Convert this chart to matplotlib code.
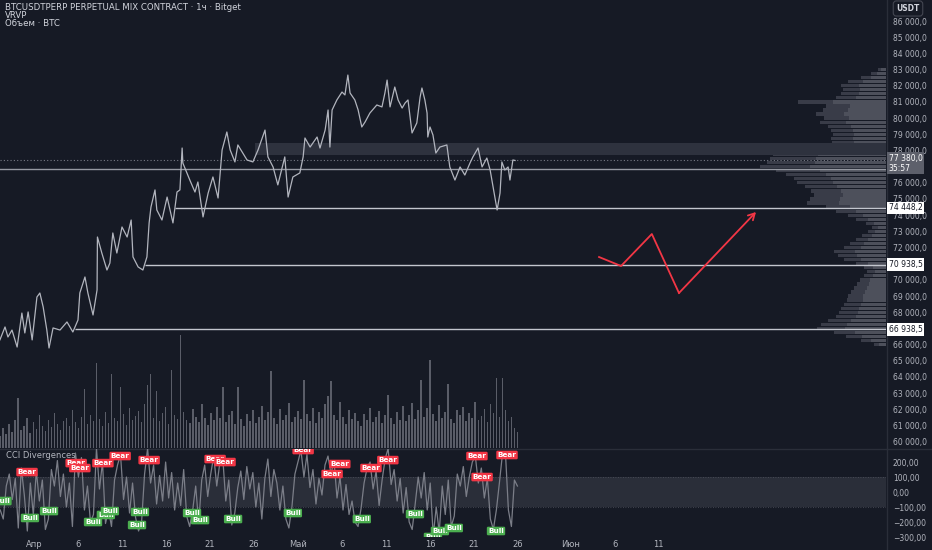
import numpy as np
import matplotlib
matplotlib.use("Agg")
import matplotlib.pyplot as plt
from matplotlib.ticker import FuncFormatter

BG = "#161a25"
GRID = "#2a2e39"
TXT = "#b2b5be"
RED = "#f23645"
GREEN = "#4caf50"

# price path, hours from 1 Apr 00:00 (1h candles)
price_h = [-93, -79, -71, -60, -46, -33, -25, -16, -5, 8,
           16, 25, 35, 41, 52, 71, 90, 106, 120, 125,
           139, 147, 161, 172, 173, 185, 199, 207, 215, 226,
           240, 254, 265, 270, 284, 297, 308, 314, 319, 330,
           335, 349, 363, 379, 390, 398, 404, 406, 425, 439,
           447, 461, 475, 488, 502, 513, 526, 535, 548, 556,
           581, 597, 611, 630, 638, 652, 665, 684, 693, 706,
           725, 734, 739, 753, 772, 780, 794, 802, 807, 813,
           826, 840, 848, 856, 862, 875, 884, 894, 903, 916,
           935, 949, 957, 963, 971, 984, 993, 1004, 1012, 1020,
           1031, 1044, 1053, 1058, 1066, 1072, 1074, 1080, 1088, 1096,
           1107, 1126, 1134, 1148, 1162, 1175, 1189, 1197, 1211, 1222,
           1235, 1244, 1252, 1263, 1271, 1276, 1284, 1293, 1298, 1306,
           1312]
price_v = [66290, 67090, 66470, 66900, 65850, 67950, 66720, 68020, 66290, 68940,
           69190, 68330, 66900, 65790, 67030, 66900, 67400, 66780, 67520, 69190,
           70180, 69190, 67830, 69380, 72650, 71660, 70610, 71040, 72900, 71660,
           73270, 72650, 73700, 71420, 70800, 70610, 71420, 73520, 74500, 75560,
           74320, 73700, 75120, 73520, 75430, 75560, 78150, 77220, 76170, 75430,
           76050, 73890, 75370, 76360, 75060, 78030, 79140, 78030, 77290, 78340,
           77410, 77290, 78030, 79260, 77600, 76980, 75870, 77600, 75120, 76360,
           76610, 77600, 78770, 78210, 78830, 78150, 79260, 80500, 78210, 80500,
           81120, 81610, 81430, 82660, 81550, 81120, 80500, 79450, 79760, 80310,
           80810, 80690, 81550, 82350, 80690, 81920, 81120, 80620, 80930, 81120,
           79080, 79700, 81300, 81860, 81120, 80310, 78830, 79450, 78960, 77840,
           78210, 78340, 76980, 76170, 76980, 76480, 77220, 77600, 78150, 76980,
           77530, 76790, 75740, 74320, 75370, 77290, 76790, 76980, 76170, 77410,
           77380]

# volume (BTC /40), sampled every ~8h
volume = [12, 20, 14, 24, 16, 28, 50, 18, 22, 30,
          15, 26, 19, 33, 22, 17, 28, 21, 35, 24,
          18, 27, 30, 22, 38, 26, 20, 31, 59, 24,
          33, 27, 85, 29, 22, 36, 25, 74, 30, 27,
          61, 34, 23, 40, 28, 32, 37, 26, 44, 63,
          74, 30, 57, 27, 35, 41, 24, 78, 33, 29,
          113, 36, 28, 25, 39, 31, 26, 44, 30, 23,
          35, 28, 41, 30, 61, 26, 33, 37, 24, 61,
          29, 22, 34, 27, 38, 25, 31, 42, 28, 36,
          77, 30, 24, 39, 28, 33, 45, 26, 31, 37,
          29, 68, 34, 27, 40, 25, 36, 30, 44, 52,
          67, 33, 28, 46, 31, 24, 38, 29, 35, 27,
          22, 34, 28, 40, 26, 31, 37, 25, 33, 53,
          30, 24, 36, 28, 42, 27, 33, 45, 29, 38,
          68, 31, 40, 88, 34, 27, 43, 30, 36, 64,
          29, 25, 38, 33, 41, 27, 35, 30, 46, 28,
          32, 39, 26, 44, 35, 70, 31, 70, 38, 27,
          31, 20, 16]

cci = [-120, -180, 40, 120, -50, 90, -240, 160, -20, -260,
       60, -150, 140, -60, 80, -250, -180, 150, 40, 210,
       -30, 120, -100, 60, -230, 260, 100, 230, -120, 40,
       -200, -150, 290, 20, 200, -210, -120, -230, 80, 180,
       250, -50, 100, -140, 60, -170, -260, -200, 120, 290,
       60, 180, -80, 110, -60, 200, -40, 130, -120, 60,
       -90, 150, -160, -230, -120, 40, -210, 80, 180, -30,
       120, 240, 40, 190, 230, -60, 80, -220, -140, 30,
       140, -50, 170, 20, 130, -100, 60, -180, 90, 220,
       -30, 150, 60, -120, 40, -180, -240, -100, 120, 200,
       280, 100, 250, 30, 150, -80, 90, -20, 180, 240,
       120, 210, -40, 100, -120, 50, -150, -60, -200, -230,
       -110, 60, 160, 200, 20, 140, -90, 80, 220, 290,
       50, 150, -60, 90, -140, 30, -200, -250, -80, 100,
       -40, 130, -120, 60, -290, -100, -270, 40, -150, 80,
       -230, -160, 120, 40, 170, -30, 100, 200, 240, 60,
       160, -40, 90, -180, -250, -120, 60, 250, 270, -120,
       -230, 80, 40]

bear_h = [-19, 115, 125, 188, 235, 314, 494, 521, 734, 813, 834, 919, 965, 1208, 1222, 1290]
bear_c = [133, 193, 160, 193, 240, 213, 220, 200, 280, 120, 187, 160, 213, 240, 100, 247]
bull_h = [-86, -11, 41, 161, 196, 207, 281, 289, 431, 453, 543, 706, 894, 1039, 1088, 1107, 1145, 1260]
bull_c = [-60, -173, -127, -200, -153, -127, -220, -133, -140, -187, -180, -140, -180, -147, -300, -260, -240, -260]

# visible range volume profile, 250 USDT rows
prof_p = np.arange(83000, 65999, -250)
prof_w = [8, 15, 25, 38, 45, 43, 45, 50, 88, 60,
          63, 70, 62, 66, 58, 55, 53, 55, 54, 120,
          110, 113, 116, 119, 126, 110, 100, 92, 89, 81,
          75, 72, 76, 79, 60, 50, 38, 30, 20, 14,
          18, 24, 30, 36, 42, 52, 48, 42, 30, 22,
          19, 22, 26, 29, 32, 35, 38, 39, 42, 45,
          47, 50, 58, 65, 69, 52, 40, 25, 12]

levels = [74448.2, 70938.5, 66938.5]
level_start = [384, 303, 112]
pivot = 76850
last_price = 77380.0
band = (77720, 78460)
band_start = 603

zig_h = [1541, 1601, 1685, 1759, 1969]
zig_p = [71414, 70858, 72836, 69189, 74195]

price_ticks = [60000, 61000, 62000, 63000, 64000, 65000, 66000, 68000, 69000, 70000,
               72000, 73000, 74000, 75000, 76000, 78000, 79000, 80000, 81000, 82000,
               83000, 84000, 85000, 86000]
tick_h = [0, 120, 240, 360, 480, 600, 720, 840, 960, 1080, 1200, 1320, 1464, 1584, 1704]
tick_lab = ["Апр", "6", "11", "16", "21", "26", "Май", "6", "11", "16", "21", "26", "Июн", "6", "11"]

XMIN, XMAX = -92.7, 2323.6
PMIN, PMAX = 59610, 87298
FS = 5.5

W, H = 932, 550
fig = plt.figure(figsize=(W / 100, H / 100), dpi=100, facecolor=BG)


def rect(x0, y0, x1, y1):
    return [x0 / W, 1 - y1 / H, (x1 - x0) / W, (y1 - y0) / H]


def clean(a):
    for s in a.spines.values():
        s.set_visible(False)
    a.tick_params(length=0)


def pfmt(v, p=None):
    return f"{v:,.1f}".replace(",", " ").replace(".", ",")


# volume underneath
ax_vol = fig.add_axes(rect(0, 0, 886, 448), zorder=0)
ax_vol.set_facecolor(BG)
vt = -92 + 8.2 * np.arange(len(volume))
ax_vol.bar(vt, np.array(volume) * 40, width=4.5, color="#5a5d68", linewidth=0)
ax_vol.set_xlim(XMIN, XMAX)
ax_vol.set_ylim(0, 448 * 40)
ax_vol.set_xticks([])
ax_vol.set_yticks([])
clean(ax_vol)

# volume profile
ax_prof = fig.add_axes(rect(0, 0, 886, 448), zorder=1)
ax_prof.patch.set_visible(False)
pw = np.array(prof_w, dtype=float)
ax_prof.barh(prof_p, pw, left=886 - pw, height=200, color="#393c48", linewidth=0)
ax_prof.barh(prof_p, pw * 0.6, left=886 - pw * 0.6, height=200, color="#4d505b", linewidth=0)
ax_prof.set_xlim(0, 886)
ax_prof.set_ylim(PMIN, PMAX)
ax_prof.set_xticks([])
ax_prof.set_yticks([])
clean(ax_prof)

# price
ax = fig.add_axes(rect(0, 0, 886, 448), zorder=2)
ax.patch.set_visible(False)
ax.set_xlim(XMIN, XMAX)
ax.set_ylim(PMIN, PMAX)
clean(ax)
ax.axhspan(band[0], band[1], xmin=(band_start - XMIN) / (XMAX - XMIN), color="#2e323e", zorder=1, lw=0)
ax.axhline(pivot, color="#9598a1", lw=1, zorder=2)
ax.axhline(last_price, color="#787b86", lw=0.8, ls=(0, (1, 2)), zorder=2)
for lv, st in zip(levels, level_start):
    ax.hlines(lv, st, XMAX, color="#c3c6ce", lw=1, zorder=2)
ax.plot(price_h, price_v, color="#b2b5be", lw=0.9, zorder=4)
ax.plot(zig_h[:-1], zig_p[:-1], color=RED, lw=1.3, zorder=5)
ax.annotate("", xy=(zig_h[-1], zig_p[-1]), xytext=(zig_h[-2], zig_p[-2]),
            arrowprops=dict(arrowstyle="->,head_length=0.45,head_width=0.25", color=RED, lw=1.3,
                            shrinkA=0, shrinkB=0), zorder=5)

ax.yaxis.tick_right()
ax.set_yticks(price_ticks)
ax.yaxis.set_major_formatter(FuncFormatter(pfmt))
ax.tick_params(axis="y", colors=TXT, labelsize=FS, pad=5)
ax.set_xticks(tick_h)
ax.tick_params(axis="x", labelbottom=False)

yt = ax.get_yaxis_transform()
for lv in levels:
    ax.text(1.003, lv, pfmt(lv), transform=yt, ha="left", va="center", fontsize=FS, color="#131722",
            bbox=dict(boxstyle="square,pad=0.25", fc="white", ec="none"), zorder=6)
ax.annotate("77 380,0\n35:57", xy=(1.003, last_price), xycoords=yt, xytext=(0, 4.5),
            textcoords="offset points", ha="left", va="top", fontsize=FS, color="white",
            linespacing=1.05, bbox=dict(boxstyle="square,pad=0.25", fc="#5d606b", ec="none"), zorder=6)

# header
fig.text(5 / W, 1 - 7 / H, "BTCUSDTPERP PERPETUAL MIX CONTRACT · 1ч · Bitget", fontsize=6.2,
         color="#d1d4dc", va="center", ha="left")
fig.text(5 / W, 1 - 15.5 / H, "VRVP", fontsize=6.2, color="#d1d4dc", va="center", ha="left")
fig.text(5 / W, 1 - 23.5 / H, "Объем · BTC", fontsize=6.2, color="#d1d4dc", va="center", ha="left")
fig.text(908 / W, 1 - 8.5 / H, "USDT", fontsize=5.5, color="#d1d4dc", va="center", ha="center",
         fontweight="bold", bbox=dict(boxstyle="round,pad=0.4", fc=BG, ec="#434651", lw=0.8))

# CCI pane
ax_c = fig.add_axes(rect(0, 449, 886, 537), zorder=2)
ax_c.patch.set_visible(False)
clean(ax_c)
ax_c.set_xlim(XMIN, XMAX)
ax_c.set_ylim(-300, 287)
ax_c.axhspan(-100, 100, color="#2a2e39", lw=0, zorder=1)
ax_c.axhline(100, color="#50535e", lw=0.6, ls=(0, (1, 2)), zorder=1)
ax_c.axhline(-100, color="#50535e", lw=0.6, ls=(0, (1, 2)), zorder=1)
ct = -92 + 8.2 * np.arange(len(cci))
ax_c.plot(ct, cci, color="#7b7e88", lw=0.9, zorder=3)
for h, c in zip(bear_h, bear_c):
    ax_c.text(h, c, "Bear", ha="center", va="center", fontsize=5.2, color="white", fontweight="bold",
              clip_on=True, zorder=5, bbox=dict(boxstyle="round,pad=0.18", fc=RED, ec="none"))
for h, c in zip(bull_h, bull_c):
    ax_c.text(h, c, "Bull", ha="center", va="center", fontsize=5.2, color="white", fontweight="bold",
              clip_on=True, zorder=5, bbox=dict(boxstyle="round,pad=0.18", fc=GREEN, ec="none"))
ax_c.text(6 / 886, 1 - 6 / 88, "CCI Divergences", transform=ax_c.transAxes, fontsize=6,
          color=TXT, va="center", ha="left")
ax_c.yaxis.tick_right()
ax_c.set_yticks([200, 100, 0, -100, -200, -300])
ax_c.yaxis.set_major_formatter(FuncFormatter(lambda v, p: f"{v:.2f}".replace(".", ",").replace("-", "−")))
ax_c.tick_params(axis="y", colors=TXT, labelsize=FS, pad=5)
ax_c.set_xticks(tick_h)
ax_c.set_xticklabels(tick_lab)
ax_c.tick_params(axis="x", colors=TXT, labelsize=6, pad=2)

# pane borders
fig.add_artist(plt.Line2D([0, 1], [1 - 448.5 / H] * 2, color=GRID, lw=1))
fig.add_artist(plt.Line2D([886.5 / W] * 2, [0, 1], color=GRID, lw=1))

fig.savefig("out.png", dpi=100, facecolor=BG)
